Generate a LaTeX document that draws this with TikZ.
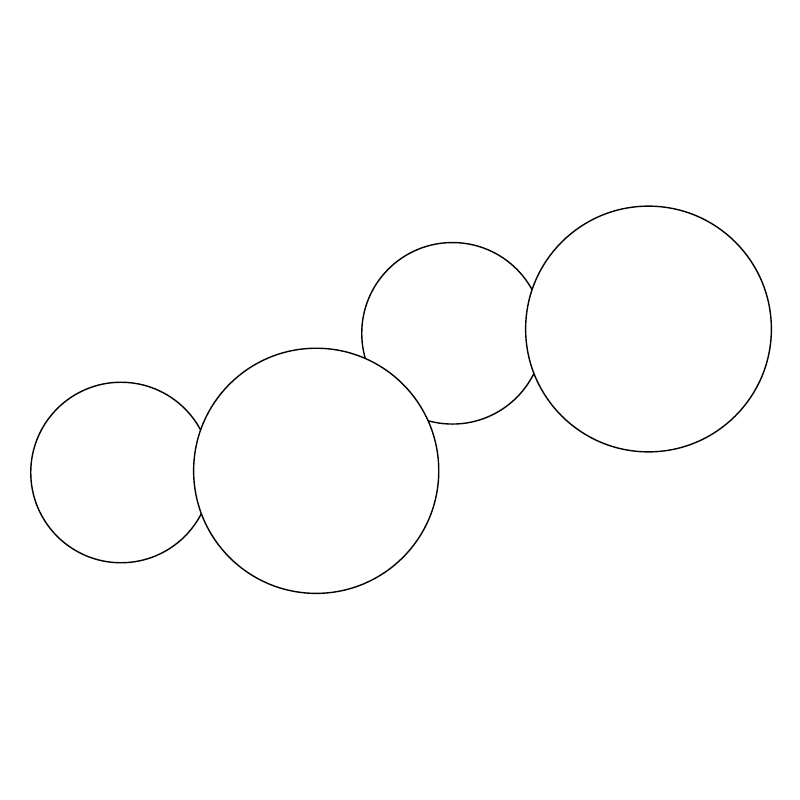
\documentclass[tikz,border=0pt]{standalone}
\begin{document}
\begin{tikzpicture}[x=0.01cm,y=-0.01cm,
  ball/.style={circle,draw=black,fill=white,line width=0.4pt,inner sep=0pt}]
\useasboundingbox[fill=white] (0,0) rectangle (800,800);
\node[ball,minimum size=1.804cm] (c1) at (121,472.5) {};
\node[ball,minimum size=1.814cm] (c3) at (452.5,333.3) {};
\node[ball,minimum size=2.45cm] (c2) at (316.2,470.8) {};
\node[ball,minimum size=2.456cm] (c4) at (648.5,329) {};
\end{tikzpicture}
\end{document}
